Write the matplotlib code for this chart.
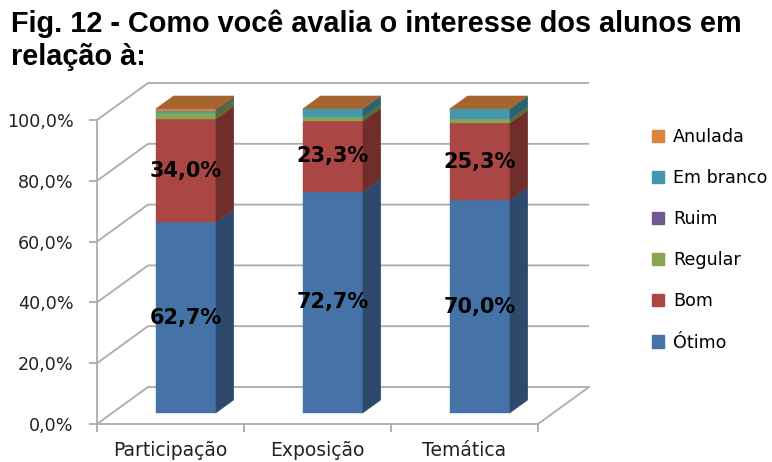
import numpy as np
import matplotlib
matplotlib.use('Agg')
import matplotlib.pyplot as plt
from matplotlib.patches import Polygon, Patch
from matplotlib.colors import to_rgb

# data (percent of answers)
categories = ['Participação', 'Exposição', 'Temática']
series = ['Ótimo', 'Bom', 'Regular', 'Ruim', 'Em branco', 'Anulada']
otimo = [62.7, 72.7, 70.0]
bom = [34.0, 23.3, 25.3]
regular = [2.0, 1.3, 1.3]
ruim = [0.0, 0.0, 0.0]
em_branco = [0.7, 2.7, 3.4]
anulada = [0.6, 0.0, 0.0]
yticks = [0, 20, 40, 60, 80, 100]

values = [otimo, bom, regular, ruim, em_branco, anulada]
colors = ['#4572A7', '#AA4643', '#89A54E', '#71588F', '#4198AF', '#DB843D']
labelled = ['Ótimo', 'Bom']


def shade(c, k):
    return tuple(k * v for v in to_rgb(c))


def fmt(v):
    return ('%.1f%%' % v).replace('.', ',')


fig = plt.figure(figsize=(7.72, 4.62), dpi=100)
ax = fig.add_axes([97 / 772, 38 / 462, 441 / 772, 304 / 462])
ax.set_xlim(0, 3)
ax.set_ylim(0, 100)
ax.patch.set_visible(False)

# fake 3d: depth of the box in data units
dx = 51 / 147.0
dy = 37 / 3.04
grid = '#ABABAB'

for v in yticks:
    ax.plot([0, dx, 3 + dx], [v, v + dy, v + dy], color=grid, lw=1.3,
            clip_on=False, zorder=1, solid_capstyle='butt')
ax.plot([3, 3 + dx], [0, dy], color=grid, lw=1.3, clip_on=False, zorder=1)

# bars sit between depth fractions f0 and f1
w = 0.41
f0, f1 = 0.30, 0.65
ox, oy = f0 * dx, f0 * dy
bx, by = (f1 - f0) * dx, (f1 - f0) * dy

for i in range(len(categories)):
    x0 = i + 0.5 - w / 2 + ox
    x1 = x0 + w
    bottom = 0.0
    for name, vals, col in zip(series, values, colors):
        h = vals[i]
        top = bottom + h
        if h > 0:
            front = [(x0, bottom + oy), (x1, bottom + oy),
                     (x1, top + oy), (x0, top + oy)]
            side = [(x1, bottom + oy), (x1 + bx, bottom + oy + by),
                    (x1 + bx, top + oy + by), (x1, top + oy)]
            ax.add_patch(Polygon(front, closed=True, fc=col, ec=col,
                                 lw=0.3, clip_on=False, zorder=3))
            sc = shade(col, 0.65)
            ax.add_patch(Polygon(side, closed=True, fc=sc, ec=sc,
                                 lw=0.3, clip_on=False, zorder=3))
        if name in labelled:
            ax.text(i + 0.5 + ox, bottom + h / 2 + oy, fmt(h),
                    ha='center', va='center', fontsize=15,
                    fontweight='bold', color='black', zorder=5)
        bottom = top
    # lid of the stack takes the colour of the last series
    tc = shade(colors[-1], 0.76)
    lid = [(x0, bottom + oy), (x1, bottom + oy),
           (x1 + bx, bottom + oy + by), (x0 + bx, bottom + oy + by)]
    ax.add_patch(Polygon(lid, closed=True, fc=tc, ec=tc, lw=0.3,
                         clip_on=False, zorder=4))

# axes
for s in ['top', 'right']:
    ax.spines[s].set_visible(False)
for s in ['left', 'bottom']:
    ax.spines[s].set_color(grid)
    ax.spines[s].set_linewidth(1.3)

ax.set_yticks(yticks)
ax.set_yticklabels([fmt(v) for v in yticks])
ax.tick_params(axis='y', length=6, width=1.3, color=grid, pad=11,
               labelsize=12.6, labelcolor='#222222')
for t in ax.get_yticklabels():
    t.set_verticalalignment('center_baseline')
ax.set_xticks([0, 1, 2, 3])
ax.set_xticklabels([])
ax.set_xticks([0.5, 1.5, 2.5], minor=True)
ax.set_xticklabels(categories, minor=True)
ax.tick_params(axis='x', which='major', length=6, width=1.3, color=grid)
ax.tick_params(axis='x', which='minor', length=0, pad=12,
               labelsize=13.5, labelcolor='#222222')

handles = [Patch(facecolor=c, edgecolor=c) for c in colors[::-1]]
fig.legend(handles, series[::-1], loc='upper left',
           bbox_to_anchor=(645 / 772, 1 - 121 / 462), frameon=False,
           fontsize=12.6, handlelength=0.7, handleheight=0.7,
           handletextpad=0.5, labelspacing=1.32, borderaxespad=0)

fig.text(11 / 772, 1 - 10 / 462,
         'Fig. 12 - Como você avalia o interesse dos alunos em\nrelação à:',
         ha='left', va='top', fontsize=20.8, fontweight='bold',
         family='Liberation Sans', linespacing=1.2)

fig.savefig('out.png', dpi=100)
